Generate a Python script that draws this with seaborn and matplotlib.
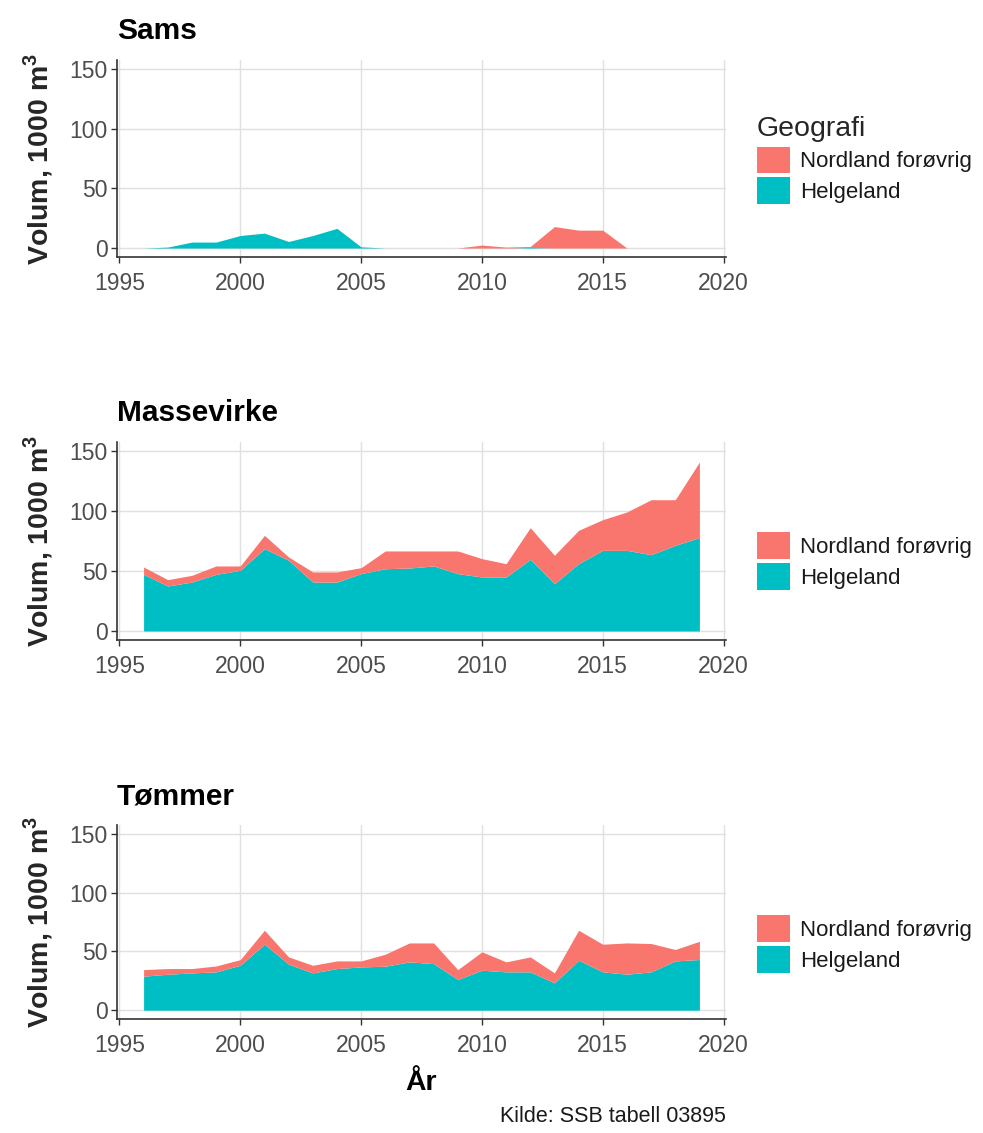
import matplotlib
matplotlib.use("Agg")
import matplotlib.pyplot as plt
import seaborn as sns

# Data: volume (1000 m3) per year, 1996-2019
years = list(range(1996, 2020))

sams_helgeland = [0, 0.8, 5, 5, 10.5, 12.5, 5.5, 10.5, 16.5, 1, 0, 0,
                  0, 0, 0, 0, 0.5, 0, 0, 0, 0, 0, 0, 0]
sams_nordland = [0, 0, 0, 0, 0, 0, 0, 0, 0, 0, 0, 0,
                 0, 0, 2.5, 0.8, 0.8, 18, 15, 15, 0, 0, 0, 0]

masse_helgeland = [47.2, 37.5, 40.8, 47.2, 50.6, 68.6, 58.9, 40.8, 40.8, 47.8, 51.9, 52.5,
                   54.2, 47.8, 45.0, 45.0, 59.7, 39.4, 56.1, 67.2, 67.2, 63.6, 71.4, 77.8]
masse_nordland = [6.1, 5.3, 5.6, 7.0, 3.6, 11.1, 2.8, 8.4, 8.4, 5.0, 14.8, 14.2,
                  12.5, 18.9, 15.3, 11.1, 26.4, 23.7, 27.8, 25.6, 32.0, 45.8, 38.0, 63.0]

tommer_helgeland = [28.9, 30.6, 31.7, 32.6, 38.2, 56.1, 39.1, 31.7, 35.4, 36.8, 37.4, 41.1,
                    39.6, 26.1, 34.0, 32.6, 32.6, 23.2, 42.5, 32.6, 30.6, 32.6, 41.9, 43.1]
tommer_nordland = [5.6, 4.8, 3.7, 5.0, 4.8, 11.9, 6.2, 6.5, 6.5, 5.1, 10.2, 16.1,
                   17.6, 8.4, 15.6, 8.5, 12.7, 8.5, 25.5, 23.5, 26.6, 24.1, 9.7, 15.5]

panels = [
    ("Sams", sams_helgeland, sams_nordland),
    ("Massevirke", masse_helgeland, masse_nordland),
    ("Tømmer", tommer_helgeland, tommer_nordland),
]
groups = ["Nordland forøvrig", "Helgeland"]
colors = {"Nordland forøvrig": "#F8766D", "Helgeland": "#00BFC4"}

sns.set_theme(style="whitegrid")
plt.rcParams["font.family"] = ["Liberation Sans", "DejaVu Sans"]
plt.rcParams["mathtext.fontset"] = "custom"
plt.rcParams["mathtext.rm"] = "Liberation Sans"
plt.rcParams["mathtext.bf"] = "Liberation Sans:bold"

fig = plt.figure(figsize=(9.83, 11.33), dpi=100)
W, H = 983, 1133

# panel boxes in pixels: (top, bottom)
boxes = [(60, 257), (442, 640), (825, 1019)]
legend_y = [160, 561, 944]
left_px, right_px = 117, 726

for i, (name, helg, nord) in enumerate(panels):
    top, bot = boxes[i]
    ax = fig.add_axes([left_px / W, 1 - bot / H, (right_px - left_px) / W, (bot - top) / H])
    polys = ax.stackplot(years, helg, nord,
                         colors=[colors["Helgeland"], colors["Nordland forøvrig"]],
                         linewidth=0, antialiased=True)
    ax.set_xlim(1994.9, 2020.1)
    ax.set_ylim(-7.5, 157.5)
    ax.set_xticks([1995, 2000, 2005, 2010, 2015, 2020])
    ax.set_yticks([0, 50, 100, 150])
    ax.set_facecolor("white")
    ax.grid(True, color="#E0E0E0", lw=1)
    for s in ["top", "right"]:
        ax.spines[s].set_visible(False)
    for s in ["left", "bottom"]:
        ax.spines[s].set_visible(True)
        ax.spines[s].set_color("#333333")
        ax.spines[s].set_linewidth(1.2)
    ax.tick_params(axis="both", direction="out", length=4, width=1, color="#333333",
                   labelcolor="#4D4D4D", labelsize=16.5, bottom=True, left=True)
    ax.tick_params(axis="x", pad=7)
    ax.tick_params(axis="y", pad=2.5)
    ax.set_title(name, loc="left", fontsize=21.5, fontweight="bold", pad=15, color="black")
    ax.set_xlabel("")
    ax.set_ylabel("")

    fig.text(38 / W, 1 - (top + bot) / 2 / H, r"Volum, 1000 m$^{\mathbf{3}}$",
             rotation=90, ha="center", va="center", fontsize=20.5, fontweight="bold")

    leg = ax.legend([polys[1], polys[0]], groups,
                    loc="center left", bbox_to_anchor=(757 / W, 1 - legend_y[i] / H),
                    bbox_transform=fig.transFigure, frameon=False, fontsize=16,
                    borderpad=0, borderaxespad=0, handlelength=1.5, handleheight=1.45,
                    handletextpad=0.45, labelspacing=0.2,
                    title="Geografi" if i == 0 else None, title_fontsize=20.5,
                    alignment="left")
    for t in leg.get_texts():
        t.set_color("#1A1A1A")

    if i == 2:
        ax.set_xlabel("År", fontsize=20.5, fontweight="bold", labelpad=9, color="black")

fig.text(right_px / W, 1 - 1117 / H, "Kilde: SSB tabell 03895",
         ha="right", va="center", fontsize=15.5, color="#1A1A1A")

fig.savefig("out.png", dpi=100)
